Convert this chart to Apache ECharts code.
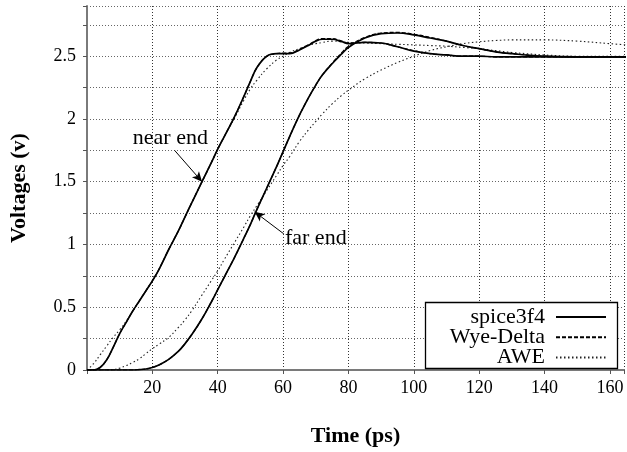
<!DOCTYPE html>
<html><head><meta charset="utf-8">
<script src="https://cdn.jsdelivr.net/npm/echarts@6/dist/echarts.min.js"></script>
<style>html,body{margin:0;padding:0;background:#fff}#c{width:627px;height:452px}</style>
</head><body><div id="c"></div>
<script>
// time samples (ps)
const time = [0,2,4,6,8,10,12,14,16,18,20,22,25,28,30,32,35,38,40,42,45,48,50,52,55,58,60,62,65,68,70,72,75,78,80,85,90,95,100,105,110,115,120,125,130,140,150,160,165];
// near end
const nearSpice = [0,0,0.02,0.08,0.18,0.29,0.38,0.47,0.55,0.63,0.71,0.80,0.96,1.11,1.22,1.33,1.49,1.65,1.76,1.86,2.01,2.18,2.30,2.41,2.50,2.52,2.52,2.52,2.55,2.59,2.62,2.635,2.635,2.615,2.60,2.61,2.605,2.575,2.54,2.52,2.51,2.50,2.50,2.495,2.495,2.495,2.495,2.495,2.495];
const nearWye   = [0,0,0.02,0.08,0.18,0.29,0.38,0.47,0.55,0.63,0.71,0.80,0.96,1.11,1.22,1.33,1.49,1.65,1.76,1.86,2.01,2.18,2.30,2.41,2.50,2.52,2.525,2.525,2.555,2.595,2.625,2.64,2.64,2.62,2.605,2.61,2.605,2.575,2.545,2.52,2.51,2.50,2.50,2.495,2.495,2.495,2.495,2.495,2.495];
const nearAWE   = [0,0.05,0.12,0.19,0.26,0.32,0.39,0.47,0.55,0.63,0.71,0.80,0.96,1.11,1.22,1.33,1.49,1.65,1.76,1.86,2.00,2.15,2.24,2.31,2.40,2.47,2.50,2.53,2.56,2.59,2.60,2.61,2.62,2.615,2.61,2.605,2.60,2.595,2.59,2.585,2.58,2.57,2.56,2.545,2.53,2.51,2.50,2.50,2.50];
// far end
const farSpice  = [0,0,0,0,0,0,0,0,0.003,0.008,0.02,0.04,0.085,0.15,0.21,0.28,0.40,0.54,0.64,0.74,0.89,1.05,1.16,1.28,1.45,1.62,1.74,1.86,2.03,2.18,2.27,2.35,2.44,2.52,2.57,2.645,2.68,2.685,2.67,2.645,2.62,2.585,2.56,2.535,2.52,2.50,2.495,2.495,2.495];
const farWye    = [0,0,0,0,0,0,0,0,0.003,0.008,0.02,0.04,0.085,0.15,0.21,0.28,0.40,0.54,0.64,0.74,0.89,1.05,1.16,1.28,1.45,1.62,1.74,1.86,2.03,2.18,2.27,2.35,2.445,2.53,2.58,2.65,2.685,2.69,2.675,2.65,2.62,2.585,2.56,2.535,2.52,2.50,2.495,2.495,2.495];
const farAWE    = [0,0,0,0,0.003,0.015,0.035,0.06,0.09,0.13,0.17,0.205,0.26,0.34,0.40,0.47,0.59,0.71,0.79,0.88,1.01,1.14,1.23,1.31,1.43,1.55,1.63,1.70,1.82,1.92,1.98,2.04,2.12,2.19,2.23,2.32,2.39,2.45,2.50,2.545,2.575,2.60,2.615,2.625,2.63,2.63,2.62,2.60,2.59];
// axis tick labels
const xTickLabels = [20,40,60,80,100,120,140,160];
const yTickLabels = [0,0.5,1,1.5,2,2.5];
const seriesNames = ['spice3f4','Wye-Delta','AWE'];
// annotations (data coordinates)
const annotNear = {text:'near end', label:[25.5,1.845], from:[26.8,1.75], to:[35.2,1.50]};
const annotFar  = {text:'far end',  label:[70.0,1.047], from:[60.2,1.085], to:[51.3,1.26]};

const pair = (vals) => time.map((t,i)=>[t, vals[i]]);
const FONT = '"Liberation Serif","Times New Roman",serif';
const styles = {
  'spice3f4': {color:'#000', width:1.7, type:'solid'},
  'Wye-Delta': {color:'#000', width:1.2, type:[4,2]},
  'AWE': {color:'#222', width:1.1, type:[1.5,2.5]}
};
function mk(name, vals, extra){
  const s = styles[name];
  return Object.assign({
    name, type:'line', data: pair(vals), showSymbol:false, symbol:'none',
    smooth:0.4, animation:false,
    lineStyle:{color:s.color, width:s.width, type:s.type}, itemStyle:{color:s.color}, z:5
  }, extra||{});
}
const arrowLine = (a) => ({
  silent:true, symbol:['none','arrow'], symbolSize:[7,10], animation:false,
  label:{show:false}, lineStyle:{color:'#000', width:1, type:'solid'},
  data:[[{coord:a.from},{coord:a.to}]]
});

const chart = echarts.init(document.getElementById('c'), null, {renderer:'canvas'});
const xMax = 164.3, yMax = 2.9;
const legends = seriesNames.map((n,i)=>({
  data:[n], orient:'vertical', right:20, top:306+i*20.2, padding:0,
  itemWidth:50, itemHeight:20, align:'right', selectedMode:false, z:20,
  itemStyle:{color:'rgba(0,0,0,0)', borderColor:'rgba(0,0,0,0)', borderWidth:0},
  textStyle:{fontFamily:FONT, fontSize:22, color:'#000', lineHeight:20, padding:[0,6,0,0]}
}));
const boxRect = {type:'rect', z:15, shape:{x:425.5, y:302.5, width:192, height:66},
    style:{fill:'#fff', stroke:'#000', lineWidth:1.3}};
chart.setOption({
  backgroundColor:'#fff',
  animation:false,
  grid:{left:81, right:0, top:6, bottom:78},
  legend: legends,
  xAxis:[{
    type:'value', min:0, max:xMax, interval:20, position:'bottom',
    name:'Time (ps)', nameLocation:'middle', nameGap:55,
    nameTextStyle:{fontFamily:FONT, fontSize:22, fontWeight:'bold', color:'#000'},
    axisLine:{show:true, onZero:false, lineStyle:{color:'#7a7a7a', width:2}},
    axisTick:{show:true, length:4, lineStyle:{color:'#555'}},
    axisLabel:{fontFamily:FONT, fontSize:18, color:'#000', margin:9,
      formatter:(v)=> xTickLabels.indexOf(Math.round(v))>=0 && Math.abs(v-Math.round(v))<1e-6 ? String(Math.round(v)) : ''},
    splitLine:{show:true, lineStyle:{color:'#333', width:1, type:[1,2]}}
  },{
    type:'value', min:0, max:xMax, position:'top',
    axisLine:{show:true, lineStyle:{color:'#7a7a7a', width:2}},
    axisTick:{show:false}, axisLabel:{show:false}, splitLine:{show:false}
  }],
  yAxis:{
    type:'value', min:0, max:yMax, interval:0.25,
    name:'Voltages (v)', nameLocation:'middle', nameGap:57,
    nameTextStyle:{fontFamily:FONT, fontSize:22, fontWeight:'bold', color:'#000'},
    axisLine:{show:true, lineStyle:{color:'#7a7a7a', width:2}},
    axisTick:{show:true, length:4, lineStyle:{color:'#555'}},
    axisLabel:{fontFamily:FONT, fontSize:18, color:'#000', margin:11,
      formatter:(v)=>{ const m = yTickLabels.find(t=>Math.abs(t-v)<1e-6); return m===undefined ? '' : String(m); }},
    splitLine:{show:true, lineStyle:{color:'#666', width:1, type:[1,2]}}
  },
  graphic:[boxRect],
  series:[
    mk('AWE', nearAWE),
    mk('AWE', farAWE),
    mk('spice3f4', nearSpice, {markLine: arrowLine(annotNear)}),
    mk('spice3f4', farSpice, {markLine: arrowLine(annotFar)}),
    mk('Wye-Delta', nearWye),
    mk('Wye-Delta', farWye)
  ]
});
// annotation texts placed via the chart's own coordinate conversion
const ann = [annotNear, annotFar].map(a=>{
  const p = chart.convertToPixel({gridIndex:0}, a.label);
  return {type:'text', z:16, x:p[0], y:p[1],
    style:{text:a.text, fontFamily:FONT, fontSize:22, fill:'#000', align:'center', verticalAlign:'middle'}};
});
chart.setOption({graphic:[boxRect].concat(ann)});
</script></body></html>
